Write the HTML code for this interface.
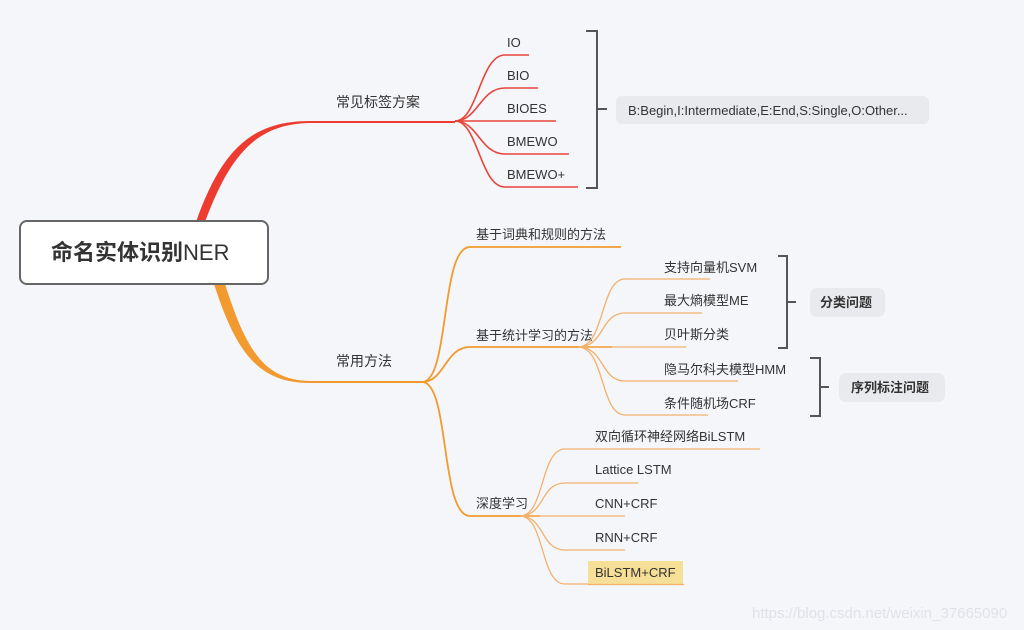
<!DOCTYPE html>
<html><head><meta charset="utf-8"><style>
html,body{margin:0;padding:0;background:#f5f6fa;}
svg{display:block}
text{font-family:"Liberation Sans","Noto Sans CJK SC",sans-serif;fill:#333;}
</style></head><body>
<svg width="1024" height="630" viewBox="0 0 1024 630" xmlns="http://www.w3.org/2000/svg">
<rect width="1024" height="630" fill="#f5f6fa"/>
<!-- main red -->
<path d="M196 222 C222 148 253 121 310 121 L455 121 L455 123 L310 123 C258 124 231 152 205 222 Z" fill="#ee3b2f"/>
<text x="336" y="107" font-size="14">常见标签方案</text>
<g fill="none" stroke="#e8453a" stroke-width="1.6">
<path d="M455 121 C478 121 480 55 505 55 L529 55"/>
<path d="M455 121 C478 121 480 88 505 88 L538 88"/>
<path d="M455 121 L556 121"/>
<path d="M455 121 C478 121 480 154 505 154 L569 154"/>
<path d="M455 121 C478 121 480 187 505 187 L578 187"/>
</g>
<g font-size="13"><text x="507" y="47">IO</text><text x="507" y="80">BIO</text><text x="507" y="113">BIOES</text><text x="507" y="146">BMEWO</text><text x="507" y="179">BMEWO+</text></g>
<path d="M586 31 L597 31 L597 188 L586 188 M597 109 L607 109" fill="none" stroke="#555" stroke-width="2"/>
<rect x="616" y="96" width="313" height="28" rx="6" fill="#e9eaee"/>
<text x="628" y="115" font-size="13">B:Begin,I:Intermediate,E:End,S:Single,O:Other...</text>
<!-- main orange -->
<path d="M214 284 C236 352 258 383 310 383 L422 383 L422 381 L310 381 C264 380 246 350 225 284 Z" fill="#f29a2e"/>
<text x="336" y="366" font-size="14">常用方法</text>
<g fill="none" stroke="#f29a2e" stroke-width="1.8">
<path d="M422 382 C450 382 440 247 470 247 L621 247"/>
<path d="M422 382 C445 382 445 347 470 347 L612 347"/>
<path d="M422 382 C450 382 440 516 470 516 L540 516"/>
</g>
<g font-size="13"><text x="476" y="239">基于词典和规则的方法</text><text x="476" y="340">基于统计学习的方法</text><text x="476" y="508">深度学习</text></g>
<g fill="none" stroke="#f3b06a" stroke-width="1.3">
<path d="M578 347 C605 347 600 279 625 279 L710 279"/>
<path d="M578 347 C605 347 600 313 625 313 L702 313"/>
<path d="M578 347 L686 347"/>
<path d="M578 347 C605 347 600 381 625 381 L738 381"/>
<path d="M578 347 C605 347 600 415 625 415 L708 415"/>
<path d="M520 516 C545 516 540 449 565 449 L760 449"/>
<path d="M520 516 C545 516 540 483 565 483 L638 483"/>
<path d="M520 516 L625 516"/>
<path d="M520 516 C545 516 540 550 565 550 L625 550"/>
<path d="M520 516 C545 516 540 584 565 584 L588 584"/>
</g>
<rect x="588" y="561" width="95" height="24" fill="#f6df96"/>
<line x1="588" y1="584.5" x2="684" y2="584.5" stroke="#f3b06a" stroke-width="1.3"/>
<g font-size="13"><text x="664" y="272">支持向量机SVM</text><text x="664" y="305">最大熵模型ME</text><text x="664" y="339">贝叶斯分类</text><text x="664" y="374">隐马尔科夫模型HMM</text><text x="664" y="408">条件随机场CRF</text>
<text x="595" y="441">双向循环神经网络BiLSTM</text><text x="595" y="474">Lattice LSTM</text><text x="595" y="508">CNN+CRF</text><text x="595" y="542">RNN+CRF</text><text x="595" y="577">BiLSTM+CRF</text></g>
<path d="M778 256 L787 256 L787 348 L778 348 M787 302 L796 302" fill="none" stroke="#555" stroke-width="2"/>
<rect x="810" y="288" width="75" height="29" rx="7" fill="#e9eaee"/>
<text x="820" y="307" font-size="13" font-weight="bold">分类问题</text>
<path d="M810 358 L820 358 L820 416 L810 416 M820 387 L829 387" fill="none" stroke="#555" stroke-width="2"/>
<rect x="839" y="373" width="106" height="29" rx="7" fill="#e9eaee"/>
<text x="851" y="392" font-size="13" font-weight="bold">序列标注问题</text>
<!-- root -->
<rect x="20" y="221" width="248" height="63" rx="7" fill="#fff" stroke="#666" stroke-width="2"/>
<text x="51" y="260" font-size="22"><tspan font-weight="bold">命名实体识别</tspan>NER</text>
<text x="752" y="618" font-size="15" style="fill:#e0e2e7">https://blog.csdn.net/weixin_37665090</text>
</svg>
</body></html>
